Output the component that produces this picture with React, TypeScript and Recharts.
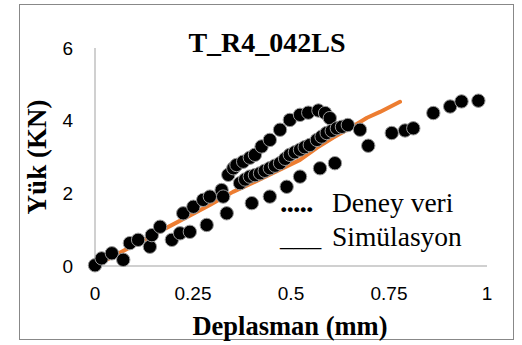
import { ScatterChart, Scatter, XAxis, YAxis } from "recharts";

// Deney veri (measured load-displacement points)
const deneyX = [
  0.0, 0.017, 0.043, 0.072, 0.089, 0.11, 0.14, 0.145, 0.166, 0.196, 0.217, 0.242, 0.225, 0.251, 0.276,
  0.293, 0.323, 0.327,
  0.285, 0.336, 0.4, 0.446, 0.489, 0.523, 0.574, 0.612, 0.697, 0.757, 0.791, 0.812, 0.863, 0.906,
  0.935, 0.978,
  0.34, 0.353, 0.361, 0.378, 0.395, 0.408, 0.425, 0.446, 0.472, 0.497, 0.523, 0.544, 0.57, 0.587, 0.599,
  0.37, 0.383, 0.395, 0.408, 0.421, 0.433, 0.446, 0.459, 0.472, 0.485, 0.497, 0.51, 0.523, 0.535,
  0.548, 0.566, 0.578, 0.591, 0.604, 0.617, 0.63, 0.645, 0.676,
];
const deneyY = [
  0.02, 0.21, 0.35, 0.17, 0.63, 0.72, 0.53, 0.85, 1.08, 0.72, 0.9, 0.94, 1.45, 1.63, 1.82,
  1.91, 2.09, 1.91,
  1.13, 1.45, 1.73, 1.91, 2.18, 2.46, 2.69, 2.83, 3.31, 3.66, 3.73, 3.79, 4.21, 4.39,
  4.53, 4.55,
  2.51, 2.69, 2.78, 2.87, 2.98, 3.06, 3.29, 3.47, 3.75, 4.02, 4.16, 4.22, 4.28, 4.21, 4.07,
  2.28, 2.38, 2.46, 2.5, 2.55, 2.62, 2.69, 2.76, 2.83, 2.95, 3.06, 3.13, 3.2, 3.27,
  3.33, 3.47, 3.56, 3.66, 3.72, 3.79, 3.83, 3.88, 3.75,
];

// Simülasyon curve
const simX = [0, 0.186, 0.293, 0.352, 0.403, 0.523, 0.566, 0.607, 0.651, 0.694, 0.727, 0.778];
const simY = [0, 1.07, 1.68, 2.04, 2.29, 2.92, 3.25, 3.53, 3.8, 4.08, 4.24, 4.52];

const xTicks = [0, 0.25, 0.5, 0.75, 1];
const yTicks = [0, 2, 4, 6];

const deney = deneyX.map((x, i) => ({ x, y: deneyY[i] }));
const sim = simX.map((x, i) => ({ x, y: simY[i] }));

const serif = "'Liberation Serif', 'Times New Roman', serif";
const sans = "'Liberation Sans', Arial, sans-serif";

const Dot = (props: any) => (
  <circle cx={props.cx} cy={props.cy} r={6.7} fill="#000" stroke="#9a9a9a" strokeWidth={1} />
);

export default function App() {
  return (
    <div style={{ position: "absolute", left: 0, top: 0, width: 522, height: 345, background: "#fff" }}>
      <ScatterChart width={522} height={345} margin={{ top: 48, right: 35, bottom: 49, left: 35 }}>
        <XAxis
          type="number"
          dataKey="x"
          domain={[0, 1]}
          ticks={xTicks}
          tickLine={false}
          axisLine={{ stroke: "#c0c0c0", strokeWidth: 1.5 }}
          tickMargin={15}
          height={30}
          tick={{ fill: "#000", fontSize: 19, fontFamily: sans }}
        />
        <YAxis
          type="number"
          dataKey="y"
          domain={[0, 6]}
          ticks={yTicks}
          tickLine={false}
          axisLine={{ stroke: "#c0c0c0", strokeWidth: 1.5 }}
          tickMargin={16}
          width={60}
          tick={{ fill: "#000", fontSize: 19, fontFamily: sans }}
        />
        <Scatter
          data={sim}
          line={{ stroke: "#ED7D31", strokeWidth: 4, strokeLinecap: "round", strokeLinejoin: "round" }}
          shape={() => null}
          isAnimationActive={false}
        />
        <Scatter data={deney} shape={Dot} isAnimationActive={false} />
      </ScatterChart>
      <svg
        width={522}
        height={345}
        style={{ position: "absolute", left: 0, top: 0, pointerEvents: "none" }}
      >
        <rect x={19.5} y={4.5} width={494} height={335} fill="none" stroke="#888" strokeWidth={1} />
        <text x={242} y={-7} textAnchor="middle" fontFamily={serif} fontSize={22}>(c)</text>
        <text x={267} y={52} textAnchor="middle" fontFamily={serif} fontWeight="bold" fontSize={28}>
          T_R4_042LS
        </text>
        <text
          transform="translate(46,157) rotate(-90)"
          textAnchor="middle"
          fontFamily={serif}
          fontWeight="bold"
          fontSize={27}
        >
          Yük (KN)
        </text>
        <text x={290} y={335} textAnchor="middle" fontFamily={serif} fontWeight="bold" fontSize={26.5}>
          Deplasman (mm)
        </text>
        <text x={280} y={212} fontFamily={serif} fontSize={27.5}>
          <tspan fontWeight="bold" fontSize={30} letterSpacing={-1}>.....</tspan>
          <tspan x={332}>Deney veri</tspan>
        </text>
        <text x={280} y={246} fontFamily={serif} fontSize={27.5}>
          <tspan>___</tspan>
          <tspan x={332}>Simülasyon</tspan>
        </text>
      </svg>
    </div>
  );
}
